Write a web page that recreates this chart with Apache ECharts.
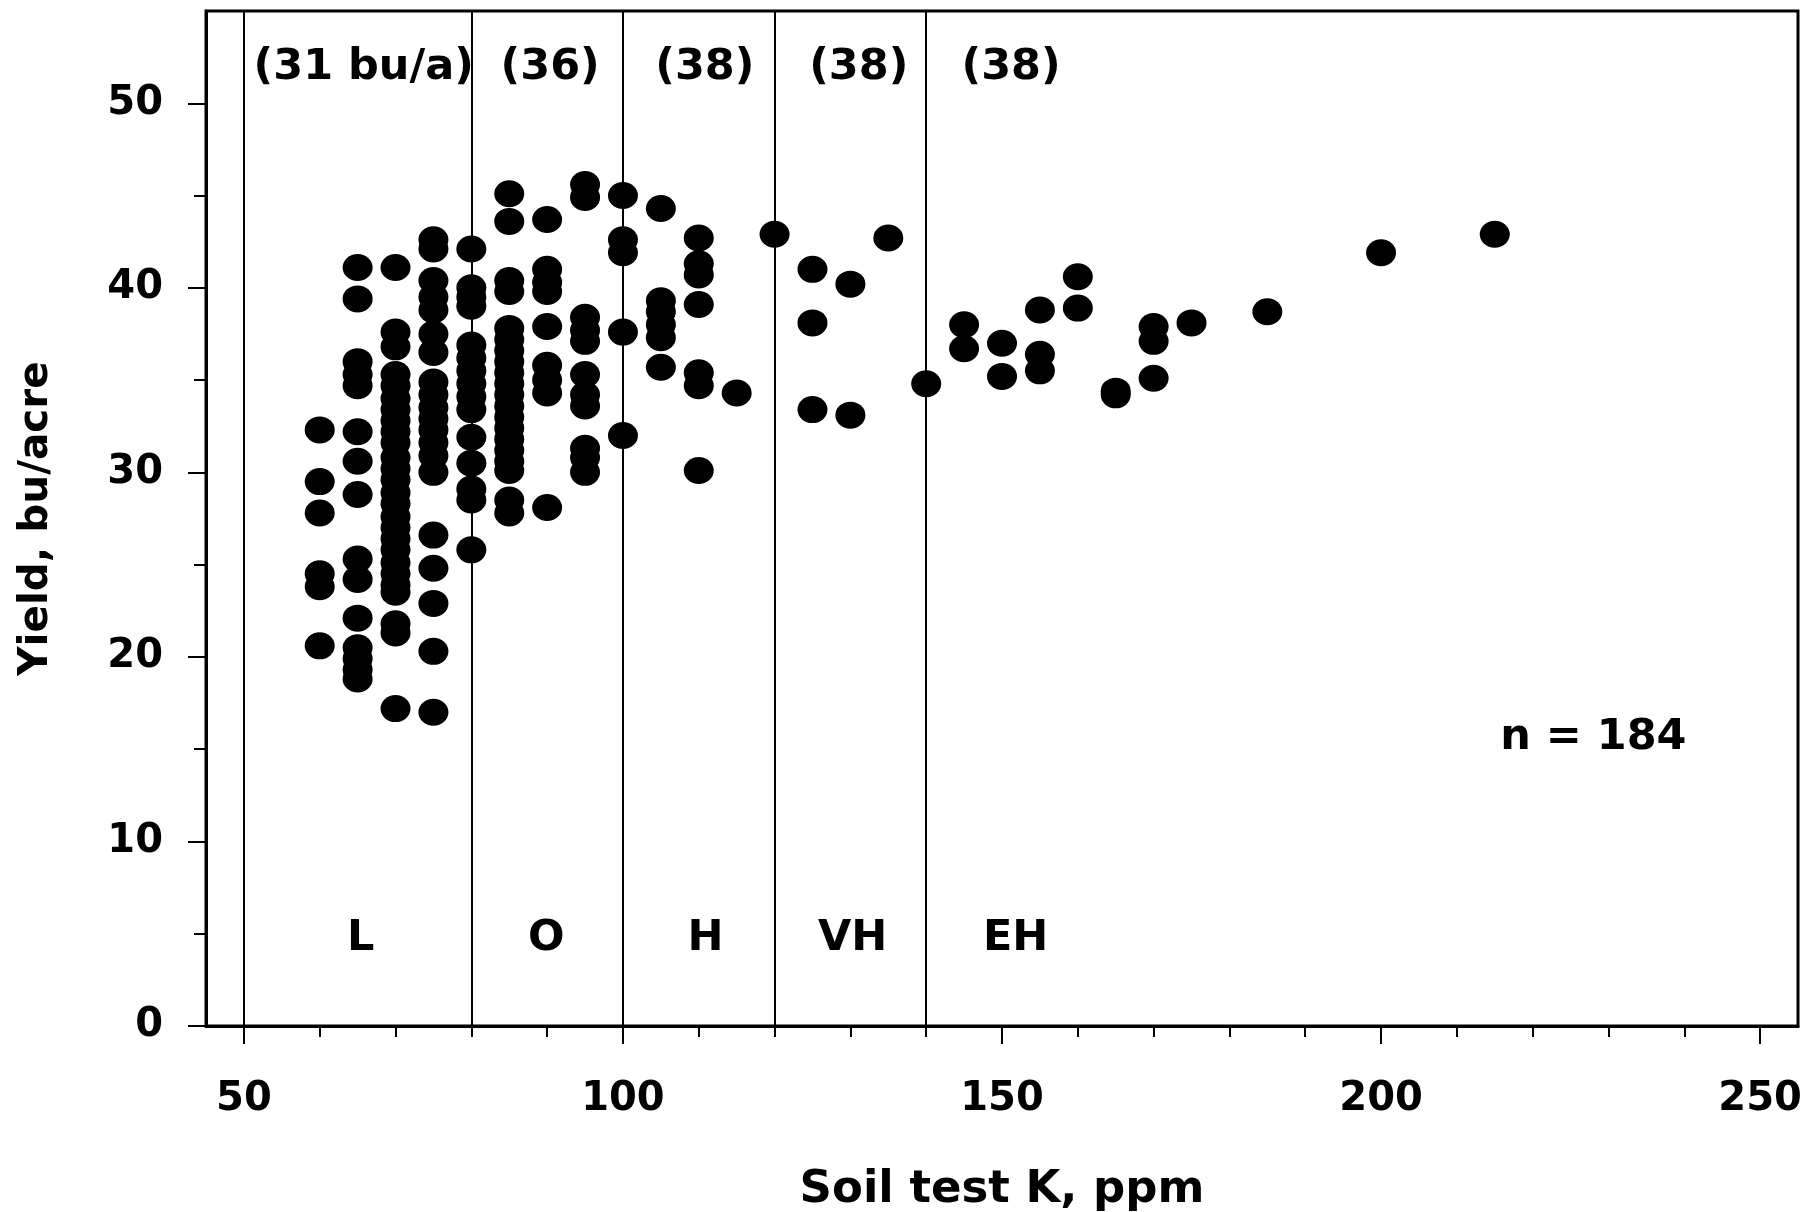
<!DOCTYPE html>
<html>
<head>
<meta charset="utf-8">
<script src="https://cdn.jsdelivr.net/npm/echarts@6/dist/echarts.min.js"></script>
<style>
html,body{margin:0;padding:0;background:#fff;}
#chart{width:1808px;height:1212px;}
</style>
</head>
<body>
<div id="chart"></div>
<script>
// ---- data ----
const soilK = [60,65,70,75,80,85,90,95,100,105,110,115,120,125,130,135,140,145,150,155,160,165,170,175,185,200,215];
const yieldByK = [
  [32.3,29.5,27.8,24.5,23.8,20.6],
  [41.1,39.4,36.0,35.3,34.7,32.2,30.6,28.8,25.3,24.2,22.1,20.5,19.9,19.3,18.8],
  [41.1,37.6,36.8,35.3,34.7,34.0,33.4,32.8,32.2,31.6,30.8,30.2,29.6,28.9,28.3,27.6,27.0,26.4,25.8,25.1,24.5,23.9,23.5,21.8,21.3,17.2],
  [42.6,42.1,40.4,39.5,38.8,37.5,36.5,34.9,34.2,33.5,32.9,32.3,31.6,30.9,30.0,26.6,24.8,22.9,20.3,17.0],
  [42.1,40.0,39.5,39.0,36.9,36.2,35.5,34.8,34.1,33.4,31.9,30.5,29.1,28.5,25.8],
  [45.1,43.6,40.4,39.8,37.8,37.2,36.6,36.0,35.4,34.8,34.2,33.6,33.0,32.4,31.8,31.2,30.6,30.1,28.5,27.8],
  [43.7,41.0,40.3,39.8,37.9,35.8,35.0,34.3,28.1],
  [45.6,44.9,38.4,37.7,37.1,35.3,34.2,33.6,31.3,30.8,30.0],
  [45.0,42.6,41.9,37.6,32.0],
  [44.3,39.3,38.7,38.0,37.3,35.7],
  [42.7,41.3,40.7,39.1,35.4,34.7,30.1],
  [34.3],
  [42.9],
  [41.0,38.1,33.4],
  [40.2,33.1],
  [42.7],
  [34.8],
  [38.0,36.7],
  [37.0,35.2],
  [38.8,36.4,35.5],
  [40.6,38.9],
  [34.4,34.2],
  [37.9,37.1,35.1],
  [38.1],
  [38.7],
  [41.9],
  [42.9]
];
// class boundaries (ppm)
const boundaries = [50,80,100,120,140];
// class mean yields text (top) and class names (bottom)
const meanText = ['(31 bu/a)','(36)','(38)','(38)','(38)'];
const meanX = [65.8,90.4,110.8,131.1,151.2];
const meanY = 51.9;
const classText = ['L','O','H','VH','EH'];
const classX = [65.4,89.9,110.9,130.3,151.8];
const classY = 4.75;
const nText = 'n = 184';
const nPos = [228,15.6];
// axis ticks
const xMajor = [50,100,150,200,250];
const xMinor = [60,70,80,90,110,120,130,140,160,170,180,190,210,220,230,240];
const yMajor = [0,10,20,30,40,50];
const yMinor = [5,15,25,35,45];

// ---- build ----
const points = [];
soilK.forEach((k,i)=>yieldByK[i].forEach(v=>points.push([k,v])));

const FONT = 'DejaVu Sans';
const annData = [];
meanText.forEach((t,i)=>annData.push({value:[meanX[i],meanY],name:t}));
classText.forEach((t,i)=>annData.push({value:[classX[i],classY],name:t}));
annData.push({value:nPos,name:nText});

const chart = echarts.init(document.getElementById('chart'));
const xBase = {type:'value',min:45,max:255,gridIndex:0,splitLine:{show:false},position:'bottom'};
const yBase = {type:'value',min:0,max:55,gridIndex:0,splitLine:{show:false},position:'left'};
chart.setOption({
  animation:false,
  backgroundColor:'#fff',
  grid:{left:206,right:10,top:11,bottom:186,containLabel:false,outerBoundsMode:'none',
    show:true,borderColor:'#000',borderWidth:3,backgroundColor:'transparent'},
  xAxis:[
    Object.assign({},xBase,{
      name:'Soil test K, ppm',nameLocation:'middle',nameGap:142,
      nameTextStyle:{fontFamily:FONT,fontWeight:'bold',fontSize:45,color:'#000'},
      axisLine:{show:true,lineStyle:{color:'#000',width:3}},
      axisTick:{show:true,inside:false,length:18,lineStyle:{color:'#000',width:2},customValues:xMajor},
      axisLabel:{show:true,customValues:xMajor,margin:54,fontFamily:FONT,fontWeight:'bold',fontSize:40,color:'#000'}
    }),
    Object.assign({},xBase,{
      axisLine:{show:false},
      axisTick:{show:true,inside:false,length:11,lineStyle:{color:'#000',width:2},customValues:xMinor},
      axisLabel:{show:false}
    })
  ],
  yAxis:[
    Object.assign({},yBase,{
      name:'Yield, bu/acre',nameLocation:'middle',nameGap:149,nameRotate:90,
      nameTextStyle:{fontFamily:FONT,fontWeight:'bold',fontSize:40.5,color:'#000'},
      axisLine:{show:true,lineStyle:{color:'#000',width:3}},
      axisTick:{show:true,inside:false,length:18,lineStyle:{color:'#000',width:2},customValues:yMajor},
      axisLabel:{show:true,customValues:yMajor,margin:43,padding:[7,0,0,0],fontFamily:FONT,fontWeight:'bold',fontSize:40,color:'#000'}
    }),
    Object.assign({},yBase,{
      axisLine:{show:false},
      axisTick:{show:true,inside:false,length:12,lineStyle:{color:'#000',width:2},customValues:yMinor},
      axisLabel:{show:false}
    })
  ],
  series:[
    {
      type:'scatter',xAxisIndex:0,yAxisIndex:0,
      data:points,symbol:'circle',symbolSize:[30,27],
      itemStyle:{color:'#000',opacity:1},
      markLine:{silent:true,symbol:'none',label:{show:false},
        lineStyle:{color:'#000',width:2,type:'solid',opacity:1},
        data:boundaries.map(b=>({xAxis:b}))},
      z:3
    },
    {
      type:'scatter',xAxisIndex:0,yAxisIndex:0,
      data:annData,symbolSize:0,silent:true,
      itemStyle:{opacity:1},
      label:{show:true,position:'inside',formatter:p=>p.name,fontFamily:FONT,fontWeight:'bold',fontSize:43,color:'#000',opacity:1},
      z:5
    }
  ]
});
</script>
</body>
</html>
